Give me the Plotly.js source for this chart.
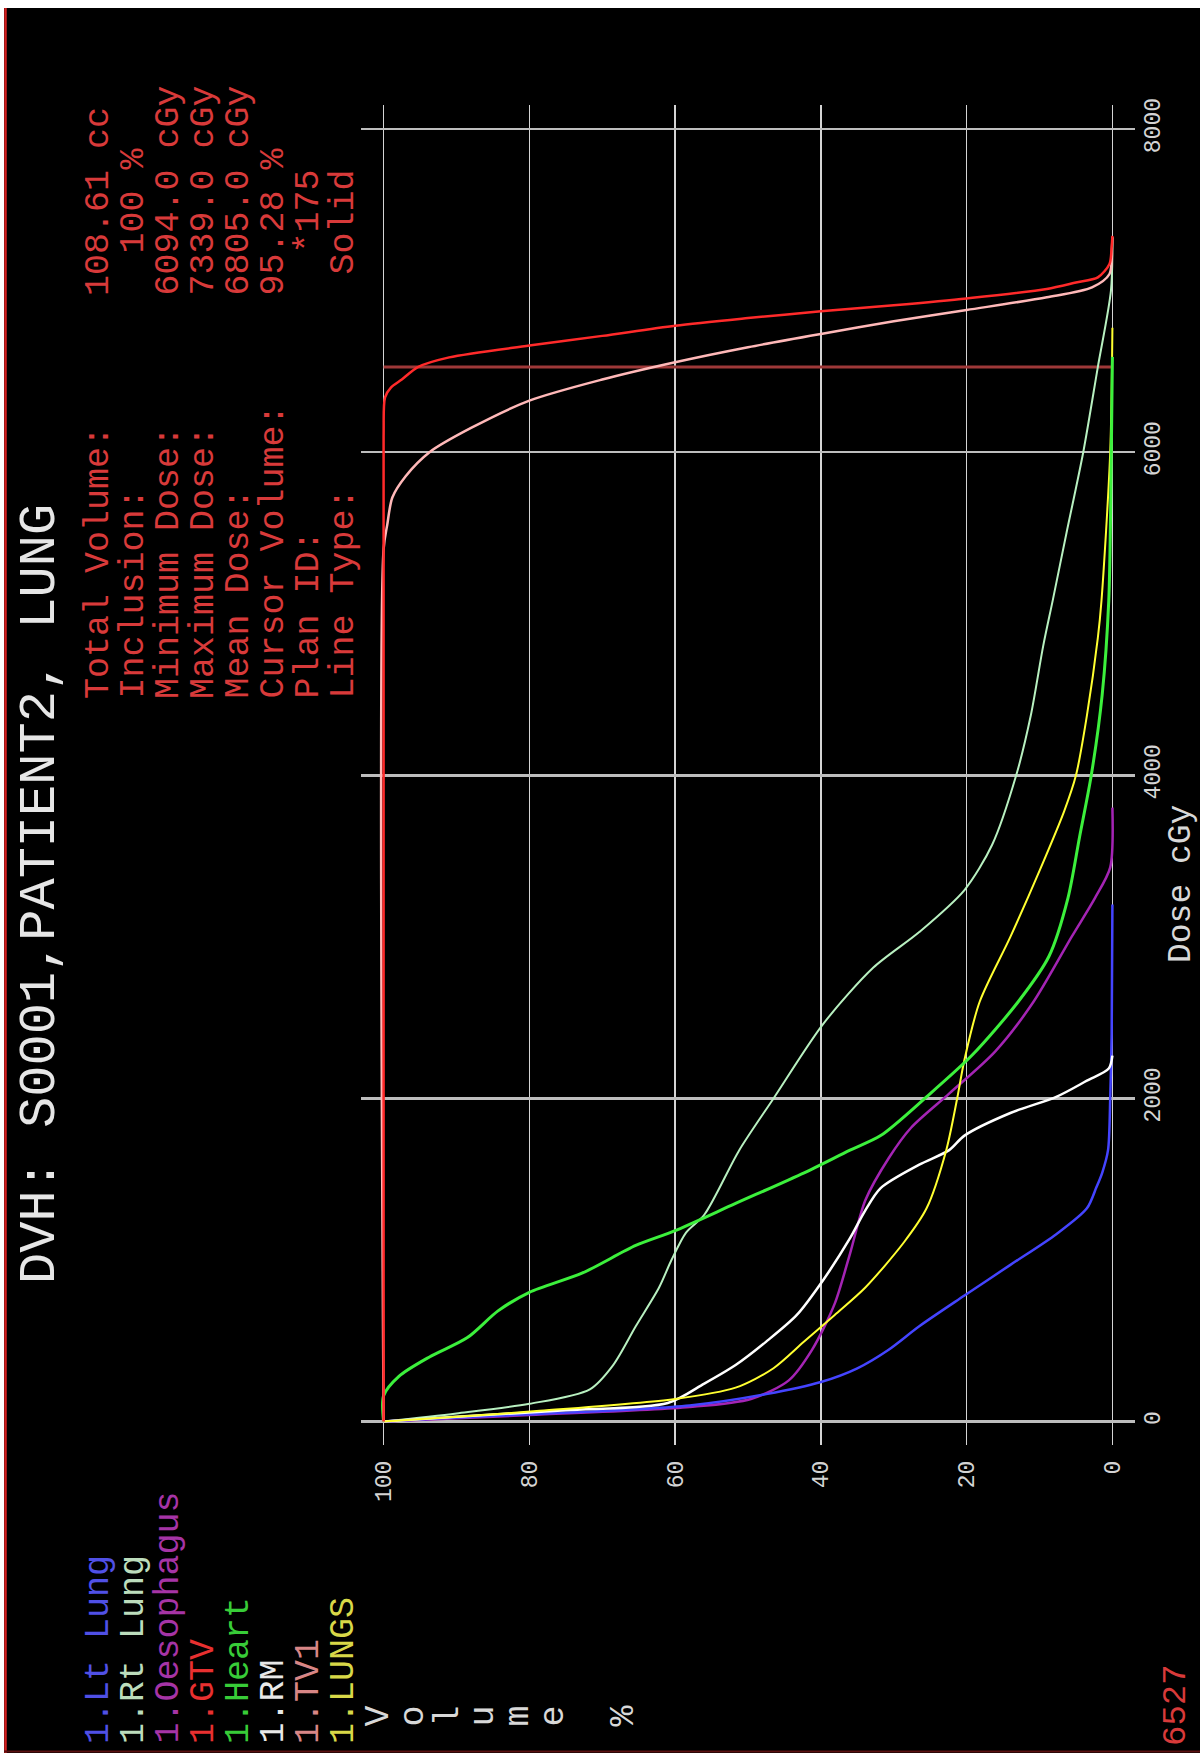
<!DOCTYPE html>
<html><head><meta charset="utf-8">
<script src="https://cdn.plot.ly/plotly-3.0.1.min.js"></script>
<style>html,body{margin:0;padding:0;background:#000;} #chart{width:1200px;height:1753px;}</style>
</head><body><div id="chart"></div>
<script>
// ---------- data ----------
const titleText = "DVH: S0001,PATIENT2, LUNG";
const structureNames = ["1.Lt Lung","1.Rt Lung","1.Oesophagus","1.GTV","1.Heart","1.RM","1.TV1","1.LUNGS"];
const legendColors = ["#5050e6","#bcdcbc","#a634a6","#e83030","#38cc38","#e8e8e8","#d88686","#d8d848"];
const curveColors  = ["#4444ff","#b8f0c0","#a424b4","#ff2a2a","#3cf03c","#ffffff","#ffb8b8","#ffff30"];
const curveWidths  = [2.5, 2, 2.5, 2.5, 3, 2.5, 2.5, 2];

const ltLungDose = [0, 20, 45, 100, 170, 245, 330, 445, 590, 780, 970, 1160, 1320, 1450, 1540, 1680, 2000, 2400, 3200];
const ltLungVol  = [100, 92, 80, 58, 47.5, 40, 35, 30.7, 26.5, 20.3, 14, 7.7, 3.5, 2.2, 1.4, 0.6, 0.3, 0.1, 0];

const rtLungDose = [0, 50, 110, 200, 350, 590, 830, 1000, 1170, 1280, 1680, 2000, 2460, 2810, 3030, 3290, 3570, 4000, 4370, 4800, 5080, 5500, 6000, 6527, 7000, 7330];
const rtLungVol  = [100, 90, 80, 71.7, 68.5, 65.4, 62.2, 60.5, 58.5, 56, 51.2, 46.5, 39.7, 32.8, 26.5, 20.3, 16.5, 13.2, 11.2, 9.5, 8.2, 6.3, 4, 2, 0.2, 0];

const oesophagusDose = [0, 40, 90, 140, 255, 445, 730, 1040, 1370, 1630, 1820, 2030, 2290, 2600, 3000, 3240, 3430, 3800];
const oesophagusVol  = [100, 80, 58, 49.6, 44.4, 41.2, 38.1, 36, 33.9, 30.7, 27.6, 22.4, 16.1, 10.8, 5.6, 2.4, 0.3, 0];

const gtvDose = [0, 6094, 6340, 6400, 6450, 6527, 6587, 6660, 6720, 6783, 6830, 6872, 6910, 6952, 7010, 7050, 7082, 7165, 7270, 7339];
const gtvVol  = [100, 100, 99.8, 99, 97.5, 95.3, 91, 80, 70, 60, 50, 40, 30, 20, 9, 5, 2, 0.4, 0.1, 0];

const heartDose = [0, 160, 280, 400, 520, 685, 800, 920, 1090, 1180, 1350, 1540, 1680, 1770, 2010, 2270, 2600, 2880, 3240, 3620, 4000, 4500, 5080, 5800, 6590];
const heartVol  = [100, 100, 97.9, 93.7, 88.5, 84.3, 80, 72.7, 65.4, 60.1, 51.7, 42.3, 36, 31.8, 25.5, 19.2, 12.9, 8.7, 6.1, 4.5, 2.9, 1.4, 0.5, 0.2, 0];

const rmDose = [0, 30, 70, 115, 235, 350, 495, 660, 875, 1135, 1300, 1445, 1590, 1680, 1770, 1910, 2010, 2110, 2185, 2265];
const rmVol  = [100, 90, 75, 61, 56, 51.7, 47.5, 43.3, 39.7, 36, 34, 31.8, 26.5, 22.4, 20.3, 14, 7.7, 3.5, 0.5, 0];

const tv1Dose = [0, 5400, 5550, 5720, 5850, 6000, 6150, 6319, 6450, 6557, 6650, 6732, 6810, 6880, 6959, 7020, 7103, 7268, 7330];
const tv1Vol  = [100, 100, 99.5, 98.8, 97, 93.7, 88, 80, 70, 60, 50, 40, 30, 20, 9, 2.8, 0.4, 0.05, 0];

const lungsDose = [0, 30, 65, 140, 210, 330, 495, 660, 830, 1110, 1320, 1680, 2000, 2240, 2600, 3000, 3430, 3780, 4000, 4370, 4850, 5080, 6000, 6770];
const lungsVol  = [100, 90, 79, 60, 51.7, 46.5, 42.3, 38.1, 33.9, 28.6, 25.5, 22.8, 21.3, 20.3, 18.2, 14, 9.8, 6.6, 5.0, 3.5, 2.0, 1.5, 0.3, 0];

const cursorDose = 6527;
const cursorVolumeSpan = [100, 0];
const cursorLabel = "6527";

const statLabels = ["Total Volume:","Inclusion:","Minimum Dose:","Maximum Dose:","Mean Dose:","Cursor Volume:","Plan ID:","Line Type:"];
const statValues = ["108.61 cc","\u00A0\u00A0100 %","6094.0 cGy","7339.0 cGy","6805.0 cGy","95.28 %","\u00A0\u00A0*175","\u00A0Solid"];

const volumeAxisLetters = ["V","o","l","u","m","e","","%"];
const volumeTicks = [0, 20, 40, 60, 80, 100];
const doseTicks = [0, 2000, 4000, 6000, 8000];
const doseAxisTitle = "Dose cGy";

// ---------- layout helpers ----------
const W = 1200, H = 1753, ML = 361, MR = 65, MT = 105, MB = 308;
const PW = W - ML - MR, PH = H - MT - MB;
const px = x => (x - ML) / PW;
const py = y => (H - MB - y) / PH;
const MONO = "Liberation Mono, Courier New, monospace";

function rot(text, x, y, size, color, xanchor, yanchor) {
  return {text: text, xref: 'paper', yref: 'paper', x: px(x), y: py(y),
    xanchor: xanchor || 'center', yanchor: yanchor || 'bottom', textangle: -90,
    showarrow: false, borderpad: 0, font: {family: MONO, size: size, color: color}};
}

const series = [
  [ltLungVol, ltLungDose], [rtLungVol, rtLungDose], [oesophagusVol, oesophagusDose],
  [gtvVol, gtvDose], [heartVol, heartDose], [rmVol, rmDose], [tv1Vol, tv1Dose], [lungsVol, lungsDose]
];

const traces = [{
  x: cursorVolumeSpan, y: [cursorDose, cursorDose], mode: 'lines', type: 'scatter',
  line: {color: '#9e3838', width: 3}, hoverinfo: 'skip'
}];
const drawOrder = [1, 2, 0, 5, 7, 4, 6, 3];
drawOrder.forEach(i => {
  traces.push({x: series[i][0], y: series[i][1], type: 'scatter', mode: 'lines', name: structureNames[i],
    line: {color: curveColors[i], width: curveWidths[i], shape: 'spline', smoothing: 0.8}});
});

const rowX = k => 98.5 + 35 * k;
const annotations = [];
annotations.push(rot(titleText, 40, 1285, 52, '#e6e6e6'));
structureNames.forEach((n, k) => annotations.push(rot(n, rowX(k), 1745, 35, legendColors[k])));
volumeAxisLetters.forEach((c, j) => { if (c) annotations.push(rot(c, rowX(8 + j), 1716, 35, '#d8d8d8', 'center', 'middle')); });
statLabels.forEach((t, k) => annotations.push(rot(t, rowX(k), 700, 35, '#d83a3a')));
statValues.forEach((t, k) => annotations.push(rot(t, rowX(k), 297, 35, '#d83a3a')));
annotations.push(rot(doseAxisTitle, 1181, 884, 33, '#d8d8d8', 'center', 'middle'));
annotations.push(rot(cursorLabel, 1176, 1705, 34, '#d83a3a', 'center', 'middle'));

const shapes = [
  {type: 'rect', xref: 'paper', yref: 'paper', x0: px(0), x1: px(W), y0: py(0), y1: py(8), fillcolor: '#ffffff', line: {width: 0}},
  {type: 'rect', xref: 'paper', yref: 'paper', x0: px(0), x1: px(4), y0: py(0), y1: py(H), fillcolor: '#ffffff', line: {width: 0}},
  {type: 'line', xref: 'paper', yref: 'paper', x0: px(5.5), x1: px(5.5), y0: py(8), y1: py(H), line: {color: '#d42020', width: 2.5}},
  {type: 'line', xref: 'paper', yref: 'paper', x0: px(4), x1: px(W), y0: py(1751.5), y1: py(1751.5), line: {color: '#5a1010', width: 2}}
];

const layout = {
  width: W, height: H, margin: {l: ML, r: MR, t: MT, b: MB},
  paper_bgcolor: '#000000', plot_bgcolor: '#000000', showlegend: false,
  xaxis: {range: [103.1, -3.1], tickvals: volumeTicks, ticktext: volumeTicks.map(String), tickangle: -90,
    showgrid: true, gridcolor: '#d4d4d4', gridwidth: 1.3, zeroline: false, showline: false, ticks: '',
    tickfont: {family: MONO, size: 23, color: '#d4d4d4'}, ticklabelstandoff: 10},
  yaxis: {range: [-145, 8149], side: 'right', tickvals: doseTicks, ticktext: doseTicks.map(String), tickangle: -90,
    showgrid: true, gridcolor: '#bdbdbd', gridwidth: 2.5, zeroline: false, showline: false, ticks: '',
    tickfont: {family: MONO, size: 23, color: '#d4d4d4'}, ticklabelstandoff: 1},
  annotations: annotations, shapes: shapes
};

Plotly.newPlot('chart', traces, layout, {staticPlot: true, displayModeBar: false});
</script></body></html>
